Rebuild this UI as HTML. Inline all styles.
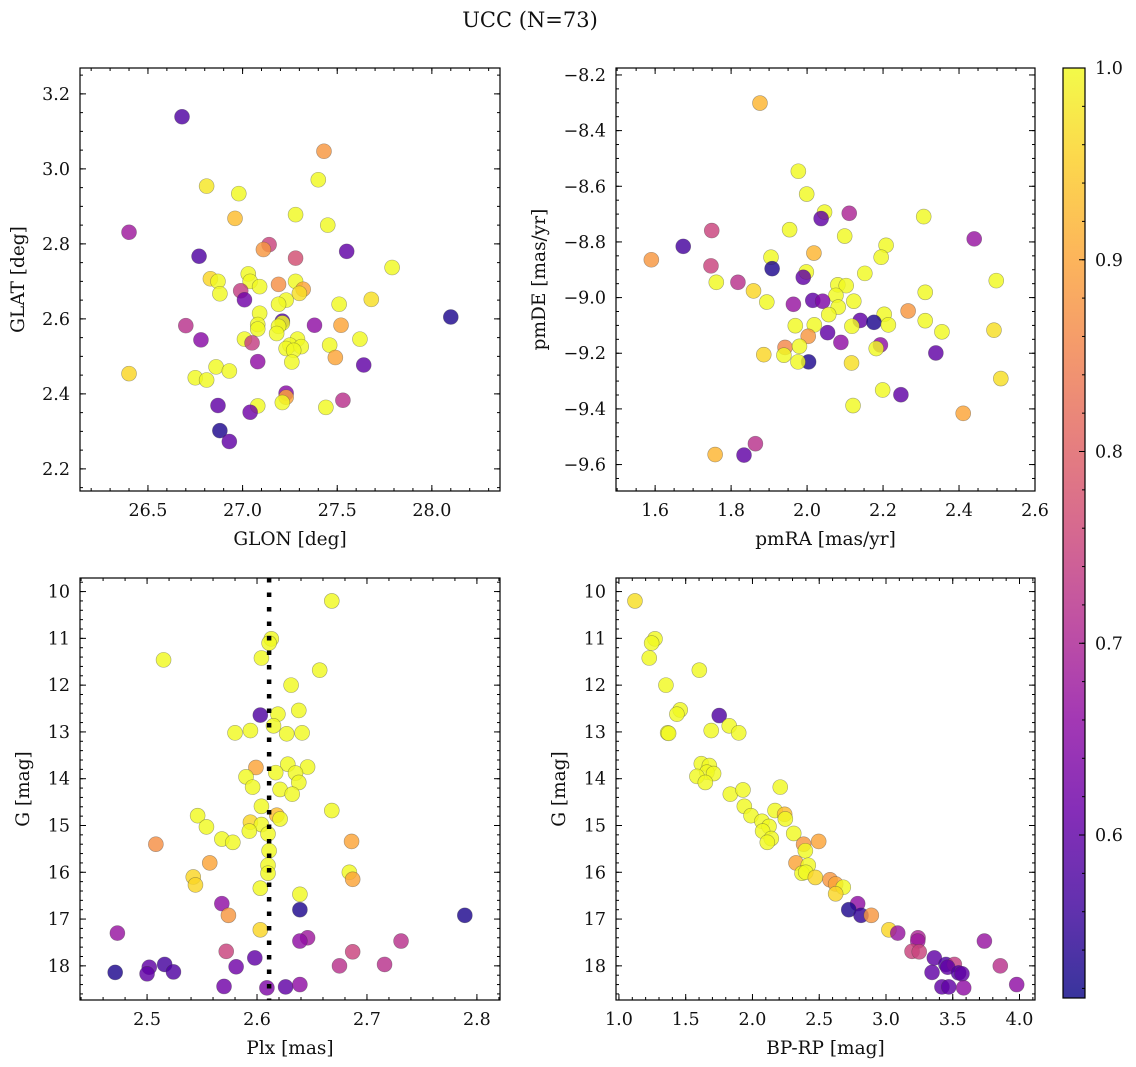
<!DOCTYPE html>
<html><head><meta charset="utf-8"><style>
html,body{margin:0;padding:0;background:#fff;width:1136px;height:1067px;overflow:hidden}
svg text{font-family:"DejaVu Serif","Liberation Serif",serif;fill:#111}
</style></head><body>
<svg id="fig" width="1136" height="1067" xmlns="http://www.w3.org/2000/svg">
<text x="530" y="27" font-size="21" text-anchor="middle">UCC (N=73)</text>
</svg>
<script>
// Panel 1: GLON vs GLAT
const glonX=[26.68,27.43,27.40,26.81,26.98,26.96,27.28,27.45,26.40,27.14,27.11,26.77,27.55,27.28,27.79,26.83,26.87,27.03,27.04,27.09,27.19,27.28,27.32,27.30,26.99,27.01,26.88,27.23,27.19,27.51,27.68,28.10,27.09,27.21,27.21,27.08,27.08,27.19,26.70,27.38,27.52,27.18,26.78,27.01,27.05,27.62,27.29,27.25,27.31,27.23,27.27,27.46,27.49,27.26,27.08,27.64,26.40,26.86,26.93,26.75,26.81,27.23,27.23,27.21,27.53,26.87,27.08,27.04,27.44,26.88,26.93];
const glatY=[3.139,3.047,2.971,2.954,2.934,2.868,2.878,2.850,2.831,2.798,2.785,2.767,2.780,2.762,2.737,2.707,2.700,2.720,2.700,2.686,2.692,2.700,2.679,2.668,2.675,2.651,2.667,2.650,2.639,2.639,2.652,2.605,2.615,2.594,2.589,2.585,2.573,2.580,2.582,2.583,2.583,2.561,2.544,2.546,2.536,2.546,2.546,2.530,2.526,2.521,2.516,2.530,2.497,2.485,2.486,2.477,2.454,2.472,2.461,2.443,2.437,2.402,2.391,2.377,2.383,2.369,2.368,2.351,2.364,2.302,2.273];
const glatP=[.58,.88,1,.98,1,.93,1,1,.68,.75,.88,.58,.6,.77,1,.96,1,1,1,1,.87,1,.9,.97,.74,.62,1,1,1,1,.97,.53,1,.58,1,1,1,1,.72,.66,.9,1,.65,1,.74,1,1,1,1,1,1,1,.9,1,.66,.6,.96,1,1,1,1,.65,.9,1,.72,.6,1,.62,1,.53,.6];
// Panel 2: pmRA vs pmDE
const pmraX=[1.876,1.977,1.999,2.046,2.037,2.111,2.307,1.749,1.954,2.099,2.440,1.674,2.208,1.590,1.905,2.018,2.195,1.747,1.908,1.998,1.990,2.152,1.761,1.818,1.859,2.081,2.103,2.076,2.498,2.311,1.894,1.964,2.015,2.041,2.123,2.082,2.057,2.266,2.203,2.140,2.176,2.311,1.969,2.019,2.118,2.214,2.355,2.492,2.003,2.054,2.089,1.942,1.980,2.193,2.182,1.886,1.939,2.339,2.004,1.976,2.117,2.510,2.199,2.247,2.121,2.411,1.864,1.758,1.834];
const pmdeY=[-8.301,-8.546,-8.628,-8.693,-8.716,-8.697,-8.709,-8.759,-8.756,-8.779,-8.789,-8.816,-8.812,-8.864,-8.855,-8.840,-8.855,-8.886,-8.896,-8.908,-8.927,-8.913,-8.945,-8.945,-8.976,-8.954,-8.957,-8.992,-8.939,-8.981,-9.016,-9.024,-9.010,-9.013,-9.013,-9.034,-9.061,-9.048,-9.060,-9.082,-9.089,-9.083,-9.101,-9.098,-9.103,-9.098,-9.123,-9.117,-9.139,-9.126,-9.161,-9.179,-9.175,-9.170,-9.183,-9.205,-9.207,-9.199,-9.231,-9.231,-9.235,-9.291,-9.332,-9.349,-9.388,-9.416,-9.525,-9.564,-9.566];
const pmP=[.92,1,1,1,.6,.7,1,.75,1,1,.67,.57,1,.88,1,.92,1,.75,.53,1,.6,1,1,.72,.96,1,1,1,1,1,1,.67,.6,.64,1,1,1,.88,1,.6,.53,1,1,1,1,1,1,.97,.88,.6,.66,.86,1,.66,1,.96,1,.6,.53,1,.97,.97,1,.6,1,.9,.72,.92,.6];
// Panel 3: Plx vs G
const plxX=[2.668,2.613,2.611,2.515,2.604,2.657,2.631,2.638,2.603,2.619,2.615,2.580,2.594,2.627,2.641,2.599,2.628,2.646,2.617,2.590,2.635,2.638,2.596,2.621,2.632,2.604,2.668,2.546,2.618,2.621,2.554,2.594,2.604,2.593,2.610,2.568,2.578,2.508,2.686,2.611,2.557,2.610,2.610,2.684,2.687,2.542,2.544,2.603,2.639,2.568,2.639,2.574,2.789,2.603,2.473,2.646,2.639,2.731,2.572,2.687,2.598,2.516,2.502,2.581,2.675,2.716,2.471,2.500,2.524,2.570,2.609,2.626,2.639];
const plxG=[10.20,11.01,11.10,11.46,11.42,11.68,12.00,12.54,12.64,12.62,12.87,13.02,12.97,13.04,13.02,13.76,13.69,13.75,13.87,13.96,13.88,14.08,14.18,14.23,14.33,14.59,14.68,14.79,14.78,14.86,15.03,14.93,14.98,15.12,15.18,15.29,15.36,15.40,15.34,15.54,15.80,15.85,16.02,16.00,16.15,16.10,16.27,16.34,16.47,16.67,16.80,16.92,16.92,17.23,17.30,17.40,17.47,17.47,17.69,17.70,17.83,17.97,18.03,18.02,18.00,17.97,18.14,18.17,18.13,18.44,18.47,18.45,18.40];
const plxP=[1,1,1,1,1,1,1,1,.58,1,1,1,1,1,1,.9,1,1,1,1,1,1,1,1,1,1,1,1,.93,1,1,.96,1,1,1,1,1,.87,.9,1,.9,1,1,1,.9,.96,.96,1,1,.66,.53,.88,.53,.96,.67,.68,.66,.72,.75,.75,.6,.57,.6,.62,.72,.72,.53,.6,.58,.62,.64,.6,.66];
const plxLine=[2.611];
// Panel 4: BP-RP vs G
const bprpX=[1.120,1.270,1.245,1.227,1.602,1.352,1.459,1.434,1.751,1.826,1.691,1.365,1.372,1.897,1.617,1.677,1.659,1.709,1.584,1.647,1.834,1.929,2.208,1.939,1.989,2.169,2.241,2.246,2.071,2.124,2.076,2.141,2.111,2.309,2.383,2.496,2.396,2.326,2.418,2.371,2.399,2.471,2.581,2.623,2.680,2.623,2.788,2.721,2.813,2.890,3.022,3.088,3.240,3.238,3.737,3.195,3.249,3.362,3.449,3.512,3.856,3.462,3.544,3.569,3.345,3.419,3.470,3.582,3.979];
const bprpG=[10.20,11.01,11.10,11.42,11.68,12.00,12.53,12.62,12.65,12.87,12.97,13.02,13.03,13.02,13.68,13.72,13.86,13.89,13.95,14.08,14.33,14.24,14.18,14.59,14.79,14.68,14.76,14.86,14.91,15.02,15.12,15.28,15.36,15.17,15.40,15.34,15.54,15.80,15.85,16.02,16.00,16.11,16.16,16.25,16.32,16.46,16.67,16.80,16.92,16.92,17.23,17.30,17.40,17.47,17.47,17.69,17.70,17.83,17.97,17.97,18.00,18.03,18.15,18.17,18.14,18.45,18.45,18.47,18.40];
const bprpP=[.97,1,1,1,1,1,1,1,.58,1,1,1,1,1,1,1,1,1,1,1,1,1,1,1,1,1,.93,1,1,1,1,1,1,1,.88,.9,1,.9,1,1,1,.96,.88,.9,1,.96,.66,.53,.55,.88,.96,.67,.7,.68,.67,.75,.75,.6,.58,.74,.72,.6,.58,.6,.6,.6,.6,.66,.66];
const cbTicks=[0.6,0.7,0.8,0.9,1.0];

const NS="http://www.w3.org/2000/svg";
const fig=document.getElementById('fig');
const VMIN=0.515,VMAX=1.0;
const TFS=17.5, LFS=18.5;
const plasma=["#0d0887","#41049d","#6a00a8","#8f0da4","#b12a90","#cc4778","#e16462","#f2844b","#fca636","#fcce25","#f0f921"];
function hex(c){return [1,3,5].map(i=>parseInt(c.substr(i,2),16));}
function cmap(v){let t=Math.max(0,Math.min(1,(v-VMIN)/(VMAX-VMIN)))*10;let i=Math.min(9,Math.floor(t)),f=t-i;const a=hex(plasma[i]),b=hex(plasma[i+1]);return 'rgb('+a.map((x,k)=>Math.round(x+(b[k]-x)*f)).join(',')+')';}
function el(tag,attrs,parent){const e=document.createElementNS(NS,tag);for(const k in attrs)e.setAttribute(k,attrs[k]);(parent||fig).appendChild(e);return e;}
function fmt(v,d){return (v<0?'\u2212':'')+Math.abs(v).toFixed(d);}

function panel(cfg){
  const g=el('g',{});
  
  
  const [L,T,R,B]=cfg.box;
  const sx=v=>L+(v-cfg.xd[0])/(cfg.xd[1]-cfg.xd[0])*(R-L);
  const sy=v=>cfg.yinv? T+(v-cfg.yd[0])/(cfg.yd[1]-cfg.yd[0])*(B-T) : B-(v-cfg.yd[0])/(cfg.yd[1]-cfg.yd[0])*(B-T);
  const tg=el('g',{stroke:'#000','stroke-width':1},g);
  
  
  const lo=(d,s)=>Math.ceil(Math.min(d[0],d[1])/s-1e-6)*s, hi=d=>Math.max(d[0],d[1]);
  for(let v=lo(cfg.xd,cfg.xmin);v<=hi(cfg.xd)+1e-9;v+=cfg.xmin){const x=sx(v);el('line',{x1:x,x2:x,y1:B,y2:B-3},tg);el('line',{x1:x,x2:x,y1:T,y2:T+3},tg);}
  for(let v=lo(cfg.yd,cfg.ymin);v<=hi(cfg.yd)+1e-9;v+=cfg.ymin){const y=sy(v);el('line',{x1:L,x2:L+3,y1:y,y2:y},tg);el('line',{x1:R,x2:R-3,y1:y,y2:y},tg);}
  cfg.xt.forEach(v=>{const x=sx(v);el('line',{x1:x,x2:x,y1:B,y2:B-6},tg);el('line',{x1:x,x2:x,y1:T,y2:T+6},tg);
    const t=el('text',{x:x,y:B+25,'font-size':TFS,'text-anchor':'middle'},g);t.textContent=fmt(v,cfg.xdec);
    });
  cfg.yt.forEach(v=>{const y=sy(v);el('line',{x1:L,x2:L+6,y1:y,y2:y},tg);el('line',{x1:R,x2:R-6,y1:y,y2:y},tg);
    const t=el('text',{x:L-10,y:y+6,'font-size':TFS,'text-anchor':'end'},g);t.textContent=fmt(v,cfg.ydec);
    });
  const pg=el('g',{},g);
  
  
  cfg.x.forEach((xv,i)=>{const c=el('circle',{cx:sx(xv),cy:sy(cfg.y[i]),r:7.5,fill:cmap(cfg.p[i]),'fill-opacity':0.82,stroke:'rgba(60,60,60,0.45)','stroke-width':0.6},pg);
    
    });
  if(cfg.vline){cfg.vline.forEach(v=>{const l=el('line',{x1:sx(v),x2:sx(v),y1:T,y2:B,stroke:'#000','stroke-width':4.5,'stroke-dasharray':'4.5 10'},g);
    });}
  const fr=el('rect',{x:L,y:T,width:R-L,height:B-T,fill:'none',stroke:'#000','stroke-width':1.2},g);
  
  const xl=el('text',{x:(L+R)/2,y:B+54,'font-size':LFS,'text-anchor':'middle'},g);xl.textContent=cfg.xlab;
  
  const yx=cfg.ylx,yy=(T+B)/2;
  const yl=el('text',{x:yx,y:yy,'font-size':LFS,'text-anchor':'middle',transform:'rotate(-90 '+yx+' '+yy+')'},g);yl.textContent=cfg.ylab;
  
}

panel({name:'glon-glat-panel',box:[80,68,500,491],xd:[26.141,28.36],yd:[2.141,3.269],xt:[26.5,27.0,27.5,28.0],yt:[2.2,2.4,2.6,2.8,3.0,3.2],xmin:0.1,ymin:0.05,xdec:1,ydec:1,x:glonX,y:glatY,p:glatP,xlab:'GLON [deg]',ylab:'GLAT [deg]',ylx:24});
panel({name:'pm-panel',box:[616,68,1035,491],xd:[1.497,2.6],yd:[-9.695,-8.175],xt:[1.6,1.8,2.0,2.2,2.4,2.6],yt:[-9.6,-9.4,-9.2,-9.0,-8.8,-8.6,-8.4,-8.2],xmin:0.05,ymin:0.05,xdec:1,ydec:1,x:pmraX,y:pmdeY,p:pmP,xlab:'pmRA [mas/yr]',ylab:'pmDE [mas/yr]',ylx:545});
panel({name:'plx-g-panel',box:[80,578,500,1000],xd:[2.439,2.821],yd:[9.71,18.73],yinv:true,xt:[2.5,2.6,2.7,2.8],yt:[10,11,12,13,14,15,16,17,18],xmin:0.02,ymin:0.2,xdec:1,ydec:0,x:plxX,y:plxG,p:plxP,vline:plxLine,xlab:'Plx [mas]',ylab:'G [mag]',ylx:29});
panel({name:'cmd-panel',box:[616,578,1035,1000],xd:[0.978,4.116],yd:[9.71,18.73],yinv:true,xt:[1.0,1.5,2.0,2.5,3.0,3.5,4.0],yt:[10,11,12,13,14,15,16,17,18],xmin:0.1,ymin:0.2,xdec:1,ydec:0,x:bprpX,y:bprpG,p:bprpP,xlab:'BP-RP [mag]',ylab:'G [mag]',ylx:565});

(function(){
  const L=1063,R=1085,T=68,B=998;
  const cg=el('g',{});
  
  
  const defs=el('defs',{},cg);
  const lg=el('linearGradient',{id:'cbg',x1:0,y1:1,x2:0,y2:0},defs);
  plasma.forEach((c,i)=>el('stop',{offset:i/10,'stop-color':c,'stop-opacity':0.82},lg));
  el('rect',{x:L,y:T,width:R-L,height:B-T,fill:'url(#cbg)',stroke:'#000','stroke-width':1.2},cg);
  const sy=v=>B-(v-VMIN)/(VMAX-VMIN)*(B-T);
  for(let v=0.52;v<=1.0001;v+=0.02){el('line',{x1:R,x2:R-3,y1:sy(v),y2:sy(v),stroke:'#000'},cg);}
  cbTicks.forEach(v=>{const y=sy(v);el('line',{x1:R,x2:R-6,y1:y,y2:y,stroke:'#000'},cg);
    const t=el('text',{x:R+10,y:y+6,'font-size':TFS},cg);t.textContent=v.toFixed(1);
    });
})();
</script>
</body></html>
